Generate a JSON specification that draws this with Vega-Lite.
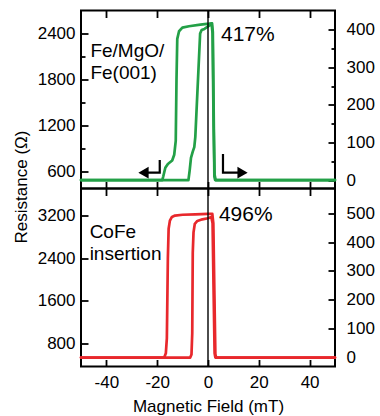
{
  "$schema": "https://vega.github.io/schema/vega-lite/v6.json",
  "padding": {"left": 11, "top": 8.5, "right": 2, "bottom": 2},
  "spacing": 0,
  "bounds": "flush",
  "config": {
    "view": {"stroke": "black", "strokeWidth": 2},
    "axis": {"domain": false, "grid": false, "tickColor": "black", "tickWidth": 1.8, "labelFont": "Liberation Sans", "labelFontSize": 17, "labelColor": "black", "titleFont": "Liberation Sans", "titleFontSize": 17, "titleColor": "black", "titleFontWeight": "normal"}
  },
  "vconcat": [
    {
      "width": 254,
      "height": 178,
      "resolve": {"scale": {"y": "independent"}, "axis": {"x": "independent", "y": "independent"}},
      "layer": [
        {
          "data": {"values": [
            {"s": "o", "i": 0, "H": 50, "R": 490}, {"s": "o", "i": 1, "H": 2.8, "R": 490}, {"s": "o", "i": 2, "H": 2.5, "R": 540}, {"s": "o", "i": 3, "H": 2.2, "R": 1500}, {"s": "o", "i": 4, "H": 1.9, "R": 2420}, {"s": "o", "i": 5, "H": 1.6, "R": 2533}, {"s": "o", "i": 6, "H": 0.5, "R": 2528}, {"s": "o", "i": 7, "H": -3, "R": 2515}, {"s": "o", "i": 8, "H": -7.5, "R": 2495}, {"s": "o", "i": 9, "H": -10.1, "R": 2476}, {"s": "o", "i": 10, "H": -11.4, "R": 2430}, {"s": "o", "i": 11, "H": -12.1, "R": 2330}, {"s": "o", "i": 12, "H": -12.4, "R": 1800}, {"s": "o", "i": 13, "H": -12.7, "R": 1000}, {"s": "o", "i": 14, "H": -13.3, "R": 820}, {"s": "o", "i": 15, "H": -14.1, "R": 745}, {"s": "o", "i": 16, "H": -15.8, "R": 700}, {"s": "o", "i": 17, "H": -16.8, "R": 650}, {"s": "o", "i": 18, "H": -17.6, "R": 540}, {"s": "o", "i": 19, "H": -18.0, "R": 490}, {"s": "o", "i": 20, "H": -50, "R": 490},
            {"s": "n", "i": 0, "H": -50, "R": 490}, {"s": "n", "i": 1, "H": -7.7, "R": 490}, {"s": "n", "i": 2, "H": -7.2, "R": 620}, {"s": "n", "i": 3, "H": -6.7, "R": 780}, {"s": "n", "i": 4, "H": -6.0, "R": 860}, {"s": "n", "i": 5, "H": -5.4, "R": 920}, {"s": "n", "i": 6, "H": -5.0, "R": 1050}, {"s": "n", "i": 7, "H": -3.8, "R": 1900}, {"s": "n", "i": 8, "H": -3.1, "R": 2400}, {"s": "n", "i": 9, "H": -2.5, "R": 2445}, {"s": "n", "i": 10, "H": -1.4, "R": 2460}, {"s": "n", "i": 11, "H": 0.6, "R": 2505}, {"s": "n", "i": 12, "H": 1.4, "R": 2528}, {"s": "n", "i": 13, "H": 1.8, "R": 2400}, {"s": "n", "i": 14, "H": 2.2, "R": 1200}, {"s": "n", "i": 15, "H": 2.6, "R": 560}, {"s": "n", "i": 16, "H": 3.0, "R": 490}, {"s": "n", "i": 17, "H": 50, "R": 490}
          ]},
          "mark": {"type": "line", "color": "#23a047", "strokeWidth": 2.7, "strokeJoin": "round", "strokeCap": "round"},
          "encoding": {
            "x": {"field": "H", "type": "quantitative", "scale": {"domain": [-50, 50], "nice": false}, "axis": {"orient": "bottom", "values": [-40, -20, 0, 20, 40], "labels": false, "title": null, "tickSize": -7}},
            "y": {"field": "R", "type": "quantitative", "scale": {"domain": [380, 2700], "nice": false, "zero": false}, "axis": {"orient": "left", "values": [600, 900, 1200, 1500, 1800, 2100, 2400], "labelExpr": "datum.value % 600 === 0 ? '' + datum.value : ''", "tickSize": {"condition": {"test": "datum.value % 600 === 0", "value": -7}, "value": -4}, "labelPadding": 13, "title": "Resistance (Ω)", "titleX": -55, "titleY": 176, "titleBaseline": "alphabetic", "titleAngle": -90}},
            "detail": {"field": "s"},
            "order": {"field": "i"}
          }
        },
        {
          "data": {"values": [{"H": 0, "T": 0}]},
          "mark": {"type": "point", "opacity": 0},
          "encoding": {
            "x": {"field": "H", "type": "quantitative", "scale": {"domain": [-50, 50], "nice": false}, "axis": {"orient": "top", "values": [-40, -20, 0, 20, 40], "labels": false, "title": null, "tickSize": -7}},
            "y": {"field": "T", "type": "quantitative", "scale": {"domain": [-22.45, 451.02], "nice": false, "zero": false}, "axis": {"orient": "right", "values": [0, 50, 100, 150, 200, 250, 300, 350, 400], "labelExpr": "datum.value % 100 === 0 ? '' + datum.value : ''", "tickSize": {"condition": {"test": "datum.value % 100 === 0", "value": -7}, "value": -4}, "labelPadding": 18, "title": null}}
          }
        },
        {
          "data": {"values": [{"H": 0}]},
          "mark": {"type": "rule", "color": "black", "strokeWidth": 1.4},
          "encoding": {
            "x": {"field": "H", "type": "quantitative", "scale": {"domain": [-50, 50], "nice": false}, "axis": null}
          }
        },
        {
          "data": {"values": [{"t": "Fe/MgO/", "H": -46.3, "R": 2094}, {"t": "Fe(001)", "H": -46.3, "R": 1811}]},
          "mark": {"type": "text", "align": "left", "baseline": "alphabetic", "font": "Liberation Sans", "fontSize": 19, "color": "black"},
          "encoding": {
            "x": {"field": "H", "type": "quantitative", "scale": {"domain": [-50, 50], "nice": false}, "axis": null},
            "y": {"field": "R", "type": "quantitative", "scale": {"domain": [380, 2700], "nice": false, "zero": false}, "axis": null},
            "text": {"field": "t"}
          }
        },
        {
          "data": {"values": [{"t": "417%", "H": 5.1, "R": 2302}]},
          "mark": {"type": "text", "align": "left", "baseline": "alphabetic", "font": "Liberation Sans", "fontSize": 21, "color": "black"},
          "encoding": {
            "x": {"field": "H", "type": "quantitative", "scale": {"domain": [-50, 50], "nice": false}, "axis": null},
            "y": {"field": "R", "type": "quantitative", "scale": {"domain": [380, 2700], "nice": false, "zero": false}, "axis": null},
            "text": {"field": "t"}
          }
        },
        {
          "data": {"values": [
            {"a": "l", "i": 0, "H": -19.0, "R": 750}, {"a": "l", "i": 1, "H": -19.0, "R": 586}, {"a": "l", "i": 2, "H": -24.2, "R": 586},
            {"a": "r", "i": 0, "H": 5.9, "R": 830}, {"a": "r", "i": 1, "H": 5.9, "R": 586}, {"a": "r", "i": 2, "H": 12.0, "R": 586}
          ]},
          "mark": {"type": "line", "color": "black", "strokeWidth": 2.2},
          "encoding": {
            "x": {"field": "H", "type": "quantitative", "scale": {"domain": [-50, 50], "nice": false}, "axis": null},
            "y": {"field": "R", "type": "quantitative", "scale": {"domain": [380, 2700], "nice": false, "zero": false}, "axis": null},
            "detail": {"field": "a"},
            "order": {"field": "i"}
          }
        },
        {
          "data": {"values": [{"d": "left", "H": -25.4, "R": 586}, {"d": "right", "H": 13.6, "R": 586}]},
          "mark": {"type": "point", "filled": true, "color": "black", "opacity": 1, "size": 140},
          "encoding": {
            "x": {"field": "H", "type": "quantitative", "scale": {"domain": [-50, 50], "nice": false}, "axis": null},
            "y": {"field": "R", "type": "quantitative", "scale": {"domain": [380, 2700], "nice": false, "zero": false}, "axis": null},
            "shape": {"field": "d", "type": "nominal", "scale": {"domain": ["left", "right"], "range": ["triangle-left", "triangle-right"]}, "legend": null}
          }
        }
      ]
    },
    {
      "width": 254,
      "height": 178,
      "resolve": {"scale": {"y": "independent"}, "axis": {"x": "independent", "y": "independent"}},
      "layer": [
        {
          "data": {"values": [
            {"s": "o", "i": 0, "H": 50, "R": 540}, {"s": "o", "i": 1, "H": 3.2, "R": 540}, {"s": "o", "i": 2, "H": 2.9, "R": 600}, {"s": "o", "i": 3, "H": 2.5, "R": 1800}, {"s": "o", "i": 4, "H": 2.1, "R": 3050}, {"s": "o", "i": 5, "H": 1.7, "R": 3228}, {"s": "o", "i": 6, "H": 0, "R": 3225}, {"s": "o", "i": 7, "H": -5, "R": 3218}, {"s": "o", "i": 8, "H": -10, "R": 3210}, {"s": "o", "i": 9, "H": -13, "R": 3195}, {"s": "o", "i": 10, "H": -14.2, "R": 3170}, {"s": "o", "i": 11, "H": -15.0, "R": 3100}, {"s": "o", "i": 12, "H": -15.5, "R": 2950}, {"s": "o", "i": 13, "H": -15.8, "R": 2400}, {"s": "o", "i": 14, "H": -16.2, "R": 900}, {"s": "o", "i": 15, "H": -16.6, "R": 620}, {"s": "o", "i": 16, "H": -17.2, "R": 545}, {"s": "o", "i": 17, "H": -50, "R": 540},
            {"s": "n", "i": 0, "H": -50, "R": 540}, {"s": "n", "i": 1, "H": -7.0, "R": 540}, {"s": "n", "i": 2, "H": -6.5, "R": 600}, {"s": "n", "i": 3, "H": -6.2, "R": 1000}, {"s": "n", "i": 4, "H": -6.0, "R": 2500}, {"s": "n", "i": 5, "H": -5.7, "R": 2880}, {"s": "n", "i": 6, "H": -5.2, "R": 3040}, {"s": "n", "i": 7, "H": -4.2, "R": 3094}, {"s": "n", "i": 8, "H": -2.2, "R": 3125}, {"s": "n", "i": 9, "H": 0, "R": 3145}, {"s": "n", "i": 10, "H": 1.3, "R": 3170}, {"s": "n", "i": 11, "H": 1.8, "R": 3050}, {"s": "n", "i": 12, "H": 2.2, "R": 1800}, {"s": "n", "i": 13, "H": 2.6, "R": 620}, {"s": "n", "i": 14, "H": 2.9, "R": 540}, {"s": "n", "i": 15, "H": 50, "R": 540}
          ]},
          "mark": {"type": "line", "color": "#e8282c", "strokeWidth": 2.7, "strokeJoin": "round", "strokeCap": "round"},
          "encoding": {
            "x": {"field": "H", "type": "quantitative", "scale": {"domain": [-50, 50], "nice": false}, "axis": {"orient": "bottom", "values": [-40, -20, 0, 20, 40], "labelExpr": "'' + datum.value", "labelPadding": 15, "tickSize": -7, "title": "Magnetic Field (mT)", "titlePadding": 8}},
            "y": {"field": "R", "type": "quantitative", "scale": {"domain": [374, 3701], "nice": false, "zero": false}, "axis": {"orient": "left", "values": [800, 1600, 2400, 3200], "labelExpr": "'' + datum.value", "tickSize": -7, "labelPadding": 13, "title": null}},
            "detail": {"field": "s"},
            "order": {"field": "i"}
          }
        },
        {
          "data": {"values": [{"H": 0, "T": 0}]},
          "mark": {"type": "point", "opacity": 0},
          "encoding": {
            "x": {"field": "H", "type": "quantitative", "scale": {"domain": [-50, 50], "nice": false}, "axis": {"orient": "top", "values": [-40, -20, 0, 20, 40], "labels": false, "title": null, "tickSize": -7}},
            "y": {"field": "T", "type": "quantitative", "scale": {"domain": [-30.74, 585.37], "nice": false, "zero": false}, "axis": {"orient": "right", "values": [0, 100, 200, 300, 400, 500], "labelExpr": "'' + datum.value", "tickSize": -7, "labelPadding": 18, "title": null}}
          }
        },
        {
          "data": {"values": [{"H": 0}]},
          "mark": {"type": "rule", "color": "black", "strokeWidth": 1.4},
          "encoding": {
            "x": {"field": "H", "type": "quantitative", "scale": {"domain": [-50, 50], "nice": false}, "axis": null}
          }
        },
        {
          "data": {"values": [{"t": "CoFe", "H": -46.6, "R": 2770}, {"t": "insertion", "H": -46.6, "R": 2365}]},
          "mark": {"type": "text", "align": "left", "baseline": "alphabetic", "font": "Liberation Sans", "fontSize": 19, "color": "black"},
          "encoding": {
            "x": {"field": "H", "type": "quantitative", "scale": {"domain": [-50, 50], "nice": false}, "axis": null},
            "y": {"field": "R", "type": "quantitative", "scale": {"domain": [374, 3701], "nice": false, "zero": false}, "axis": null},
            "text": {"field": "t"}
          }
        },
        {
          "data": {"values": [{"t": "496%", "H": 4.3, "R": 3094}]},
          "mark": {"type": "text", "align": "left", "baseline": "alphabetic", "font": "Liberation Sans", "fontSize": 21, "color": "black"},
          "encoding": {
            "x": {"field": "H", "type": "quantitative", "scale": {"domain": [-50, 50], "nice": false}, "axis": null},
            "y": {"field": "R", "type": "quantitative", "scale": {"domain": [374, 3701], "nice": false, "zero": false}, "axis": null},
            "text": {"field": "t"}
          }
        }
      ]
    }
  ]
}
